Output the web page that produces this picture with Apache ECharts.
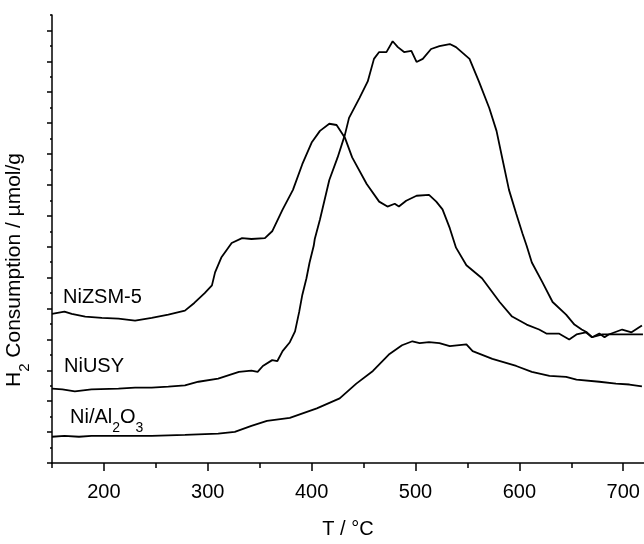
<!DOCTYPE html>
<html>
<head>
<meta charset="utf-8">
<script src="https://cdn.jsdelivr.net/npm/echarts@6/dist/echarts.min.js"></script>
<style>
html,body{margin:0;padding:0;background:#fff;}
#chart{width:644px;height:544px;}
</style>
</head>
<body>
<div id="chart"></div>
<script>
// X tick labels and axis ranges
const xMajorTicks = [200, 300, 400, 500, 600, 700];
const xMinorTicks = [150, 250, 350, 450, 550, 650];
const yMajorTicks = [0,1,2,3,4,5,6,7,8,9,10,11,12,13,14];
const yMinorTicks = [0.5,1.5,2.5,3.5,4.5,5.5,6.5,7.5,8.5,9.5,10.5,11.5,12.5,13.5,14.5];

// NiZSM-5
const zsmT = [150,162,169,182,198,214,230,246,262,278,287,297,304,307,313,323,333,342,355,362,372,382,391,400,408,417,424,432,439,453,465,473,480,484,491,501,513,520,526,533,539,549,564,581,593,607,619,626,638,648,655,664,670,680,686,696,706,719];
const zsmV = [4.83,4.90,4.83,4.74,4.70,4.67,4.61,4.70,4.80,4.93,5.18,5.50,5.75,6.17,6.65,7.12,7.28,7.25,7.28,7.50,8.20,8.84,9.67,10.37,10.75,10.98,10.94,10.53,9.89,9.03,8.46,8.30,8.39,8.30,8.49,8.65,8.68,8.46,8.21,7.60,6.97,6.40,5.98,5.21,4.74,4.48,4.32,4.19,4.19,4.00,4.16,4.23,4.07,4.16,4.16,4.16,4.16,4.16];

// NiUSY
const usyT = [150,160,172,188,214,230,246,262,278,291,310,330,342,348,353,362,367,372,379,384,388,391,395,398,402,403,408,417,425,432,436,446,454,460,465,472,478,483,489,496,501,507,515,523,533,539,552,561,571,578,584,590,597,603,607,612,622,632,645,653,660,665,670,677,682,686,699,708,718];
const usyV = [2.41,2.38,2.32,2.38,2.41,2.44,2.44,2.47,2.51,2.63,2.73,2.95,2.99,2.95,3.14,3.33,3.30,3.62,3.91,4.26,4.89,5.44,5.98,6.49,7.03,7.25,7.88,9.16,9.89,10.62,11.17,11.81,12.35,13.08,13.30,13.30,13.65,13.46,13.30,13.34,12.98,13.08,13.40,13.49,13.56,13.46,13.08,12.35,11.49,10.75,9.79,8.84,8.07,7.43,7.03,6.49,5.86,5.21,4.80,4.48,4.32,4.23,4.07,4.19,4.07,4.16,4.32,4.23,4.45];

// Ni/Al2O3
const aluT = [150,162,176,188,214,246,278,310,326,342,357,379,405,427,443,459,475,487,497,504,513,523,533,549,555,574,597,612,629,645,655,677,693,706,718];
const aluV = [0.85,0.88,0.85,0.88,0.88,0.88,0.91,0.95,1.01,1.20,1.36,1.46,1.77,2.09,2.57,2.98,3.53,3.81,3.94,3.88,3.91,3.88,3.78,3.84,3.62,3.37,3.14,2.95,2.82,2.79,2.70,2.63,2.57,2.54,2.48];

const FONT = '"Liberation Sans", Arial, sans-serif';
const zip = (a, b) => a.map((t, i) => [t, b[i]]);

const chart = echarts.init(document.getElementById('chart'), null, {renderer: 'canvas'});

const lineSeries = (name, data) => ({
  name, type: 'line', data, xAxisIndex: 0, yAxisIndex: 0,
  showSymbol: false, symbol: 'none', smooth: false, animation: false,
  lineStyle: {color: '#000', width: 1.8}
});

chart.setOption({
  animation: false,
  backgroundColor: '#fff',
  grid: {left: 52, top: 15, width: 593, height: 456, containLabel: false},
  xAxis: [
    {
      type: 'value', min: 150, max: 720, interval: 50,
      axisLine: {show: true, lineStyle: {color: '#000', width: 1.5}},
      axisTick: {show: true, length: 8, customValues: xMajorTicks, lineStyle: {color: '#000', width: 1.5}},
      axisLabel: {show: true, customValues: xMajorTicks, margin: 19, color: '#000', fontSize: 20, fontFamily: FONT},
      splitLine: {show: false},
      name: 'T / °C', nameLocation: 'middle', nameGap: 56,
      nameTextStyle: {color: '#000', fontSize: 20, fontFamily: FONT}
    },
    {
      type: 'value', min: 150, max: 720, interval: 50, position: 'bottom',
      axisLine: {show: false},
      axisTick: {show: true, length: 5, customValues: xMinorTicks, lineStyle: {color: '#000', width: 1.5}},
      axisLabel: {show: false},
      splitLine: {show: false}
    }
  ],
  yAxis: [
    {
      type: 'value', min: 0, max: 14.5, interval: 1,
      axisLine: {show: true, lineStyle: {color: '#000', width: 1.5}},
      axisTick: {show: true, length: 5, customValues: yMajorTicks, lineStyle: {color: '#000', width: 1.5}},
      axisLabel: {show: false},
      splitLine: {show: false}
    },
    {
      type: 'value', min: 0, max: 14.5, interval: 1, position: 'left',
      axisLine: {show: false},
      axisTick: {show: true, length: 2, customValues: yMinorTicks, lineStyle: {color: '#000', width: 1.5}},
      axisLabel: {show: false},
      splitLine: {show: false}
    }
  ],
  series: [
    lineSeries('NiZSM-5', zip(zsmT, zsmV)),
    lineSeries('NiUSY', zip(usyT, usyV)),
    lineSeries('Ni/Al2O3', zip(aluT, aluV))
  ],
  graphic: [
    {type: 'text', left: 63, top: 287, silent: true,
     style: {text: 'NiZSM-5', fill: '#000', fontSize: 20, fontFamily: FONT}},
    {type: 'text', left: 64, top: 356, silent: true,
     style: {text: 'NiUSY', fill: '#000', fontSize: 20, fontFamily: FONT}},
    {type: 'text', left: 70, top: 407, silent: true,
     style: {
       text: '{a|Ni/Al}{s|2}{a|O}{s|3}', fill: '#000', fontFamily: FONT,
       rich: {
         a: {fontSize: 20, fontFamily: FONT, fill: '#000', lineHeight: 36, verticalAlign: 'middle'},
         s: {fontSize: 14, fontFamily: FONT, fill: '#000', lineHeight: 36, verticalAlign: 'bottom'}
       }
     }},
    {type: 'text', x: 14, y: 270, rotation: Math.PI / 2, silent: true,
     style: {
       text: '{a|H}{s|2}{a| Consumption / µmol/g}', fill: '#000', fontFamily: FONT,
       align: 'center', verticalAlign: 'middle',
       rich: {
         a: {fontSize: 21, fontFamily: FONT, fill: '#000', lineHeight: 36, verticalAlign: 'middle'},
         s: {fontSize: 15, fontFamily: FONT, fill: '#000', lineHeight: 36, verticalAlign: 'bottom'}
       }
     }}
  ]
});
</script>
</body>
</html>
